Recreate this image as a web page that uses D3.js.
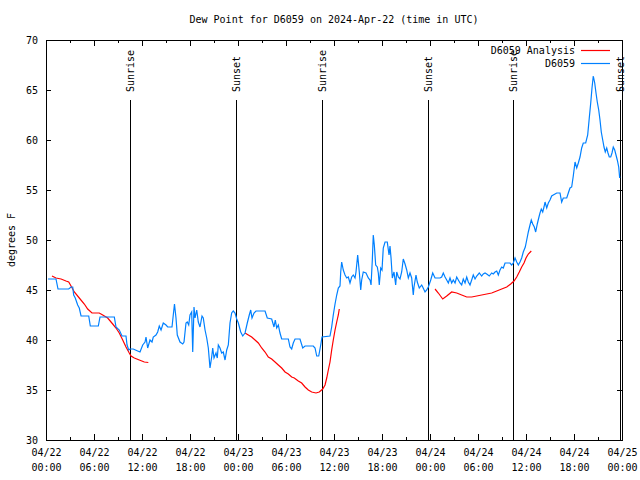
<!DOCTYPE html>
<html><head><meta charset="utf-8">
<script src="https://cdn.jsdelivr.net/npm/d3@7"></script>
<style>body{margin:0;background:#fff}svg{display:block}</style>
</head><body><svg id="c" width="640" height="480"></svg>
<script>
const title = "Dew Point for D6059 on 2024-Apr-22 (time in UTC)";
const yLabel = "degrees F";
const startTime = "2024-04-22T00:00:00Z";
const spanHours = 72;
const yDomain = [30, 70];
const yTicks = [30, 35, 40, 45, 50, 55, 60, 65, 70];
const xMajorHours = [0, 6, 12, 18, 24, 30, 36, 42, 48, 54, 60, 66, 72];
const xMinorHours = [3, 9, 15, 21, 27, 33, 39, 45, 51, 57, 63, 69];
const seriesNames = ["D6059 Analysis", "D6059"];
const seriesColors = ["#ff0000", "#0080ff"];

// observed dew point: [hours since start, degrees F]
const dewPoint = [
[0.25,46.1],[1.25,46.1],[1.5,45.1],[2.84,45.1],[3.13,45.3],[3.34,45.3],[3.46,44.5],[3.66,44.2],[3.96,43.5],[4.16,43.2],
[4.38,42.4],[5.34,42.4],[5.54,41.4],[6.54,41.4],[6.75,42.3],[8.54,42.3],[8.75,41.3],[9.16,41.0],[9.5,40.4],[10.0,40.4],
[10.13,39.5],[10.34,39.0],[10.5,39.1],[10.91,39.1],[11.46,38.9],[11.75,38.8],[12.09,39.5],[12.38,39.8],[12.5,40.3],[12.71,39.2],
[13.0,40.0],[13.25,39.8],[13.41,40.3],[13.75,40.5],[13.96,40.8],[14.16,41.4],[14.38,41.0],[14.66,41.7],[15.0,41.5],[15.21,41.3],
[15.75,41.3],[15.91,42.5],[16.06,43.6],[16.25,42.2],[16.41,40.5],[16.75,39.8],[17.09,39.6],[17.25,39.8],[17.5,41.7],[17.66,41.8],
[17.84,41.5],[18.0,42.5],[18.21,42.8],[18.34,38.8],[18.5,43.3],[18.63,42.2],[18.84,43.0],[19.04,41.8],[19.25,41.3],[19.5,42.4],
[19.66,42.2],[19.88,41.0],[20.09,40.2],[20.29,39.2],[20.5,37.2],[20.71,38.3],[20.84,39.2],[21.0,38.2],[21.25,38.7],[21.41,38.2],
[21.54,39.5],[21.75,39.2],[21.96,38.7],[22.16,38.8],[22.38,38.0],[22.59,39.0],[22.79,39.5],[23.0,41.7],[23.21,42.7],[23.41,42.9],
[23.63,42.7],[23.84,42.1],[24.04,41.7],[24.34,40.8],[24.59,40.4],[24.88,40.7],[25.16,41.7],[25.41,42.5],[25.59,43.0],[25.75,42.2],
[26.0,42.7],[26.25,42.9],[27.38,42.9],[27.66,42.2],[28.21,42.1],[28.5,41.3],[28.66,42.0],[28.84,41.2],[29.04,41.5],[29.25,40.7],
[29.46,40.1],[30.29,40.1],[30.5,39.3],[30.71,39.1],[30.91,39.7],[31.13,40.1],[31.75,40.1],[32.09,39.2],[32.38,39.4],[33.41,39.4],
[33.63,39.2],[33.84,38.4],[34.09,38.4],[34.34,39.5],[34.5,40.3],[35.5,40.4],[35.71,41.3],[35.91,42.5],[36.13,43.6],[36.34,44.5],
[36.54,45.2],[36.75,45.4],[36.84,46.8],[36.96,47.8],[37.16,47.0],[37.38,46.5],[37.59,46.2],[37.79,46.3],[38.0,45.7],[38.21,46.3],
[38.41,46.5],[38.63,46.2],[38.75,46.8],[38.96,48.5],[39.16,46.8],[39.34,45.0],[39.46,46.0],[39.66,46.8],[40.0,46.7],[40.29,46.2],
[40.5,46.0],[40.63,45.5],[40.79,48.0],[40.91,50.5],[41.04,49.5],[41.21,47.5],[41.41,47.3],[41.54,46.7],[41.66,45.5],[41.84,47.2],
[42.0,47.0],[42.16,49.2],[42.38,49.8],[42.66,49.8],[42.88,48.5],[43.0,49.4],[43.13,48.2],[43.29,46.2],[43.5,46.8],[43.71,45.5],
[43.84,46.8],[44.04,46.3],[44.25,46.1],[44.46,46.8],[44.66,48.1],[44.88,47.6],[45.09,47.0],[45.29,46.2],[45.5,46.7],[45.71,46.2],
[45.91,44.5],[46.0,45.3],[46.25,46.5],[46.41,45.8],[46.66,45.2],[46.96,45.5],[47.09,45.3],[47.38,44.8],[47.59,45.0],[47.79,45.3],
[48.09,46.0],[48.34,46.7],[48.63,46.2],[49.25,46.2],[49.46,46.3],[49.66,46.7],[49.88,46.3],[50.09,46.0],[50.29,45.7],[50.5,46.2],
[50.71,45.7],[50.91,46.0],[51.13,45.7],[51.34,46.3],[51.54,46.0],[51.75,45.7],[51.96,45.5],[52.16,46.1],[52.38,45.7],[52.59,46.3],
[52.79,45.8],[53.0,45.5],[53.21,46.0],[53.41,46.5],[53.63,46.1],[53.84,46.4],[54.16,46.7],[54.46,46.4],[54.66,46.6],[54.88,46.7],
[55.09,46.6],[55.41,46.4],[55.71,46.7],[55.91,46.6],[56.13,46.8],[56.34,46.9],[56.54,46.5],[56.75,47.0],[56.96,47.3],[57.16,47.2],
[57.38,47.7],[57.79,47.7],[58.0,47.7],[58.21,47.5],[58.41,47.7],[58.63,48.2],[58.84,47.8],[59.04,47.5],[59.25,47.8],[59.46,48.2],
[59.66,48.8],[59.91,49.3],[60.09,50.0],[60.29,50.8],[60.5,51.5],[60.66,52.0],[60.84,51.6],[61.04,51.3],[61.21,50.8],[61.41,51.6],
[61.59,52.2],[61.75,52.7],[61.91,53.1],[62.09,52.8],[62.25,53.3],[62.38,53.8],[62.59,53.2],[62.79,53.7],[63.0,54.0],[63.21,54.4],
[63.41,54.5],[63.84,54.7],[64.25,54.7],[64.46,53.8],[64.66,54.2],[65.09,54.2],[65.29,54.7],[65.5,55.2],[65.71,55.3],[65.91,56.4],
[66.13,57.8],[66.34,57.2],[66.54,57.7],[66.75,58.3],[66.96,59.2],[67.16,59.7],[67.46,59.7],[67.71,60.5],[67.91,62.2],[68.09,63.7],
[68.25,65.2],[68.41,66.4],[68.59,65.7],[68.75,64.7],[68.91,63.8],[69.09,63.0],[69.25,62.0],[69.41,60.8],[69.59,60.0],[69.75,59.3],
[69.91,58.8],[70.09,59.2],[70.25,58.7],[70.41,58.3],[70.59,58.3],[70.75,58.7],[70.91,59.3],[71.09,59.0],[71.25,58.5],[71.41,58.0],
[71.59,57.3],[71.71,56.2]
];

// analysis runs (three separate segments): [hours since start, degrees F]
const analysisRun1 = [
[0.75,46.4],[1.25,46.2],[1.88,46.1],[2.5,45.9],[2.84,45.8],[3.13,45.4],[3.54,44.8],[4.16,44.2],[4.79,43.6],[5.21,43.1],
[5.75,42.7],[6.66,42.7],[7.09,42.5],[7.71,42.2],[8.34,41.6],[8.75,41.2],[9.16,40.7],[9.59,40.0],[10.0,39.3],[10.41,38.7],
[10.63,38.4],[11.04,38.2],[11.66,38.0],[12.29,37.8],[12.79,37.75]
];
const analysisRun2 = [
[24.88,40.7],[25.29,40.5],[25.71,40.3],[26.13,40.0],[26.54,39.7],[26.96,39.2],[27.38,38.8],[27.79,38.3],[28.21,38.1],[28.63,37.8],
[29.04,37.5],[29.46,37.2],[29.88,36.8],[30.29,36.6],[30.71,36.3],[31.04,36.2],[31.54,35.9],[31.96,35.7],[32.38,35.3],[32.79,35.0],
[33.21,34.8],[33.75,34.7],[34.16,34.8],[34.59,35.1],[34.88,35.5],[35.09,36.2],[35.29,37.0],[35.5,37.8],[35.71,39.0],[35.91,40.0],
[36.13,41.0],[36.34,41.8],[36.54,42.5],[36.66,43.1]
];
const analysisRun3 = [
[48.63,45.1],[49.04,44.7],[49.59,44.1],[50.09,44.4],[50.71,44.8],[51.34,44.7],[51.96,44.5],[52.59,44.3],[53.21,44.3],[53.84,44.4],
[54.46,44.5],[55.09,44.6],[55.71,44.7],[56.34,44.9],[56.96,45.1],[57.59,45.3],[58.09,45.6],[58.5,45.9],[58.84,46.3],[59.16,46.8],
[59.46,47.3],[59.75,47.7],[60.0,48.2],[60.29,48.6],[60.66,48.9]
];

const sunLabels = ["Sunrise", "Sunset", "Sunrise", "Sunset", "Sunrise", "Sunset"];
const sunHours = [10.5, 23.75, 34.5, 47.75, 58.42, 71.8];

const svg = d3.select("#c");
const font = "'DejaVu Sans Mono', monospace";
const M = {l: 46, r: 622, t: 40, b: 440};
const t0 = new Date(startTime).getTime();
const H = 3600 * 1000;
const toDate = h => new Date(t0 + h * H);

const x = d3.scaleUtc().domain([toDate(0), toDate(spanHours)]).range([M.l, M.r]);
const y = d3.scaleLinear().domain(yDomain).range([M.b, M.t]);

svg.append("rect").attr("width", 640).attr("height", 480).attr("fill", "#fff");

// axes
const fmtDate = d3.utcFormat("%m/%d"), fmtTime = d3.utcFormat("%H:%M");
function axisStyle(g) {
  g.select(".domain").remove();
  g.selectAll("line").attr("stroke", "#000").attr("shape-rendering", "crispEdges");
  g.selectAll("text").attr("font-family", font).attr("font-size", 10).attr("fill", "#000");
}
const bottom = svg.append("g").attr("transform", `translate(0,${M.b})`)
  .call(d3.axisBottom(x).tickValues(xMajorHours.map(toDate)).tickSize(-6).tickPadding(16).tickFormat(""));
bottom.call(axisStyle);
bottom.selectAll(".tick text").each(function(d) {
  const t = d3.select(this);
  t.append("tspan").attr("x", 0).attr("dy", "0em").text(fmtDate(d));
  t.append("tspan").attr("x", 0).attr("dy", "1.5em").text(fmtTime(d));
});
svg.append("g").attr("transform", `translate(0,${M.b})`)
  .call(d3.axisBottom(x).tickValues(xMinorHours.map(toDate)).tickSize(-3).tickFormat("")).call(axisStyle);
svg.append("g").attr("transform", `translate(0,${M.t})`)
  .call(d3.axisTop(x).tickValues(xMajorHours.map(toDate)).tickSize(-6).tickFormat("")).call(axisStyle);
svg.append("g").attr("transform", `translate(0,${M.t})`)
  .call(d3.axisTop(x).tickValues(xMinorHours.map(toDate)).tickSize(-3).tickFormat("")).call(axisStyle);
svg.append("g").attr("transform", `translate(${M.l},0)`)
  .call(d3.axisLeft(y).tickValues(yTicks).tickSize(-5).tickPadding(8).tickFormat(d3.format("d"))).call(axisStyle);
svg.append("g").attr("transform", `translate(${M.r},0)`)
  .call(d3.axisRight(y).tickValues(yTicks).tickSize(-5).tickFormat("")).call(axisStyle);

// border
svg.append("rect").attr("x", M.l + 0.5).attr("y", M.t + 0.5).attr("width", M.r - M.l).attr("height", M.b - M.t)
  .attr("fill", "none").attr("stroke", "#000").attr("shape-rendering", "crispEdges");

// title and axis label
svg.append("text").attr("x", (M.l + M.r) / 2).attr("y", 23).attr("text-anchor", "middle")
  .attr("font-family", font).attr("font-size", 10).text(title);
svg.append("text").attr("transform", `translate(15,${(M.t + M.b) / 2}) rotate(-90)`).attr("text-anchor", "middle")
  .attr("font-family", font).attr("font-size", 10).text(yLabel);

// sunrise / sunset markers
const sun = svg.append("g");
sunHours.forEach((h, i) => {
  const px = x(toDate(h));
  sun.append("line").attr("x1", px).attr("x2", px).attr("y1", 100).attr("y2", M.b)
    .attr("stroke", "#000").attr("stroke-width", 1).attr("shape-rendering", "crispEdges");
  sun.append("text").attr("transform", `translate(${px + 4},92) rotate(-90)`).attr("text-anchor", "start")
    .attr("font-family", font).attr("font-size", 10).text(sunLabels[i]);
});

// lines
const line = d3.line().x(d => x(toDate(d[0]))).y(d => y(d[1]));
[analysisRun1, analysisRun2, analysisRun3].forEach(seg => {
  svg.append("path").datum(seg).attr("d", line).attr("fill", "none")
    .attr("stroke", seriesColors[0]).attr("stroke-width", 1.2);
});
svg.append("path").datum(dewPoint).attr("d", line).attr("fill", "none")
  .attr("stroke", seriesColors[1]).attr("stroke-width", 1.2);

// legend
seriesNames.forEach((name, i) => {
  const ly = 50 + i * 13;
  svg.append("text").attr("x", 575).attr("y", ly).attr("dy", "0.35em").attr("text-anchor", "end")
    .attr("font-family", font).attr("font-size", 10).text(name);
  svg.append("line").attr("x1", 581).attr("x2", 610).attr("y1", ly + 0.5).attr("y2", ly + 0.5)
    .attr("stroke", seriesColors[i]).attr("stroke-width", 1.2);
});
</script></body></html>
